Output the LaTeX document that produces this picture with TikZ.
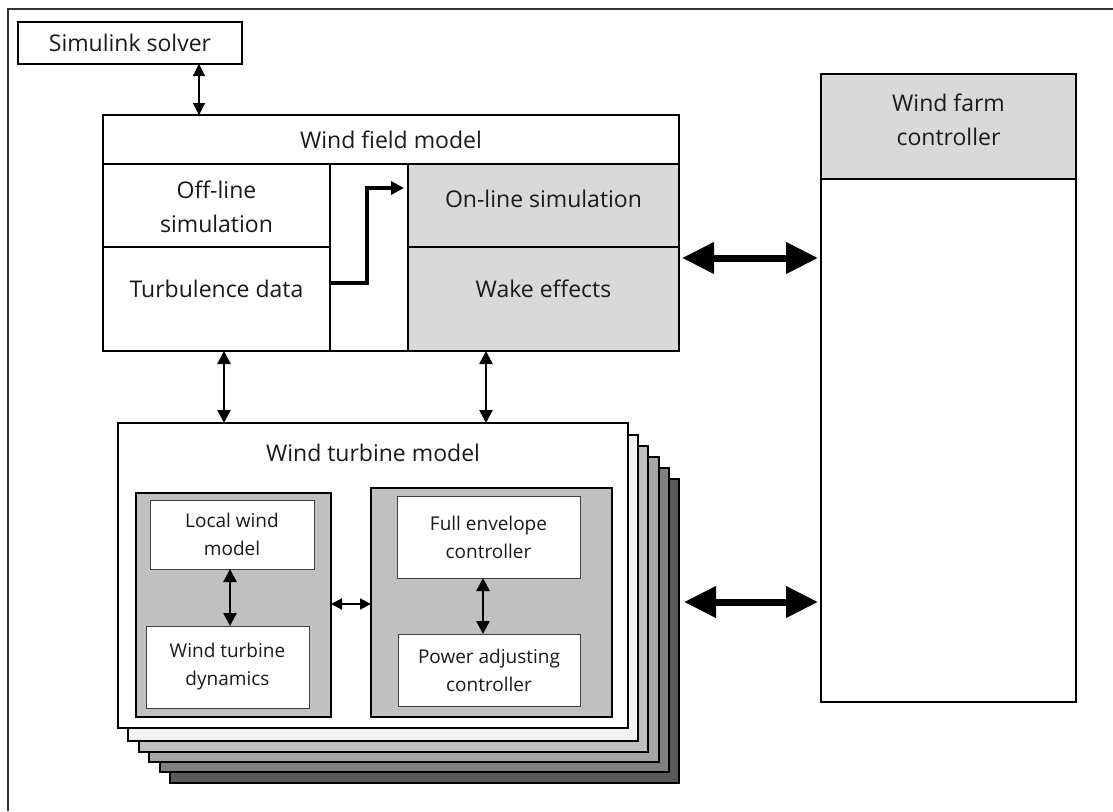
\documentclass[tikz,border=0pt]{standalone}
\usepackage{fontspec}
\setmainfont{Open Sans}
\usetikzlibrary{arrows.meta}
\definecolor{lightgrey}{HTML}{D9D9D9}
\definecolor{panelgrey}{HTML}{C0C0C0}
\definecolor{layerA}{HTML}{F2F2F2}
\definecolor{layerB}{HTML}{BFBFBF}
\definecolor{layerC}{HTML}{A6A6A6}
\definecolor{layerD}{HTML}{808080}
\definecolor{layerE}{HTML}{595959}
\definecolor{txt}{HTML}{1A1A1A}
\begin{document}
\begin{tikzpicture}[x=1pt,y=-1pt,
  every node/.style={inner sep=0pt, outer sep=0pt, text=txt},
  box/.style={draw=black, line width=1.5pt, fill=white},
  cell/.style={draw=black, line width=1.3pt},
  panel/.style={draw=black, line width=2pt, fill=panelgrey},
  inbox/.style={draw=black!75, line width=1pt, fill=white},
  layer/.style={draw=black, line width=1.5pt},
  bigfont/.style={font=\fontsize{23}{34}\selectfont, align=center},
  smallfont/.style={font=\fontsize{19}{28}\selectfont, align=center},
  thinarr/.style={{Triangle[length=12pt,width=12pt]}-{Triangle[length=12pt,width=12pt]}, line width=1.2pt},
  midarr/.style={{Triangle[length=13pt,width=13pt]}-{Triangle[length=13pt,width=13pt]}, line width=2.6pt},
  smallarr/.style={{Triangle[length=11pt,width=11pt]}-{Triangle[length=11pt,width=11pt]}, line width=2pt},
  bigarr/.style={{Triangle[length=32pt,width=30pt]}-{Triangle[length=32pt,width=30pt]}, line width=7pt},
  bentarr/.style={-{Triangle[length=13pt,width=13pt]}, line width=4pt}
]
\useasboundingbox (0,0) rectangle (1113,811);
% frame
\draw[line width=1.5pt, black!80] (8,811) -- (8,9) -- (1113,9);

% Simulink solver
\node[box, minimum width=224pt, minimum height=42pt, bigfont] (solver) at (130,43) {Simulink solver};

% Wind field model
\node[cell, fill=white, minimum width=576pt, minimum height=49pt, bigfont] (fieldtitle) at (391,139.5) {Wind field model};
\node[cell, fill=white, minimum width=227pt, minimum height=83pt] (offline) at (216.5,205.5) {};
\node[cell, fill=white, minimum width=227pt, minimum height=104pt] (turb) at (216.5,299) {};
\node[cell, fill=white, minimum width=78pt, minimum height=187pt] (mid) at (369,257.5) {};
\node[cell, fill=lightgrey, minimum width=271pt, minimum height=83pt] (online) at (543.5,205.5) {};
\node[cell, fill=lightgrey, minimum width=271pt, minimum height=104pt] (wake) at (543.5,299) {};
\draw[line width=1.6pt] (offline.north west) rectangle (wake.south east);
\node[bigfont] (tOffline) at (216.5,207) {Off-line\\simulation};
\node[bigfont] (tTurb) at (216.5,289) {Turbulence data};
\node[bigfont] (tOnline) at (543.5,199) {On-line simulation};
\node[bigfont] (tWake) at (543.5,289) {Wake effects};

% Wind farm controller
\node[box, fill=lightgrey, minimum width=255pt, minimum height=105pt] (ctrlhead) at (948.5,126.5) {};
\node[box, minimum width=255pt, minimum height=523pt] (ctrlbody) at (948.5,440.5) {};
\node[bigfont] (tCtrl) at (948.5,120) {Wind farm\\controller};

% Turbine stack
\node[layer, fill=layerE, minimum width=509pt, minimum height=304pt] (layer5) at (424.5,631) {};
\node[layer, fill=layerD, minimum width=509pt, minimum height=304pt] (layer4) at (414.5,620) {};
\node[layer, fill=layerC, minimum width=510pt, minimum height=305pt] (layer3) at (404,609.5) {};
\node[layer, fill=layerB, minimum width=509pt, minimum height=306pt] (layer2) at (393.5,599) {};
\node[layer, fill=layerA, minimum width=510pt, minimum height=306pt] (layer1) at (383,588) {};
\node[layer, fill=white, minimum width=510pt, minimum height=305pt] (front) at (373,575.5) {};
\node[bigfont] (tTurbine) at (373,453) {Wind turbine model};

% Inner panels
\node[panel, minimum width=195pt, minimum height=224pt] (leftpanel) at (233.5,605) {};
\node[inbox, minimum width=164pt, minimum height=69pt, smallfont] (localwind) at (232,534.5) {Local wind\\model};
\node[inbox, minimum width=163pt, minimum height=82pt, smallfont] (dynamics) at (227.5,667) {Wind turbine\\dynamics};
\node[panel, minimum width=241pt, minimum height=229pt] (rightpanel) at (491.5,602.5) {};
\node[inbox, minimum width=183pt, minimum height=82pt, smallfont] (fullenv) at (488.5,537) {Full envelope\\controller};
\node[inbox, minimum width=182pt, minimum height=72pt, smallfont] (power) at (489,670) {Power adjusting\\controller};

% helper coordinates
\coordinate (xs) at (199,0);
\coordinate (xa) at (224,0);
\coordinate (xb) at (486,0);
\coordinate (xl) at (230,0);
\coordinate (xf) at (483,0);
\coordinate (xm) at (367,0);
\coordinate (ya) at (0,258);
\coordinate (yb) at (0,602);
\coordinate (yt) at (0,283);
\coordinate (yo) at (0,188);
\coordinate (ym) at (0,604);

% connectors
\draw[thinarr] (xs |- solver.south) -- (xs |- fieldtitle.north);
\draw[midarr] (xa |- turb.south) -- (xa |- front.north);
\draw[midarr] (xb |- wake.south) -- (xb |- front.north);
\draw[bigarr, shorten <=3pt, shorten >=3pt] (ya -| wake.east) -- (ya -| ctrlbody.west);
\draw[bigarr, shorten <=5pt, shorten >=3pt] (yb -| layer5.east) -- (yb -| ctrlbody.west);
\draw[bentarr, shorten >=4pt] (yt -| turb.east) -| (xm |- yo) -- (yo -| online.west);
\draw[midarr] (xl |- localwind.south) -- (xl |- dynamics.north);
\draw[midarr] (xf |- fullenv.south) -- (xf |- power.north);
\draw[smallarr] (ym -| leftpanel.east) -- (ym -| rightpanel.west);
\end{tikzpicture}
\end{document}
